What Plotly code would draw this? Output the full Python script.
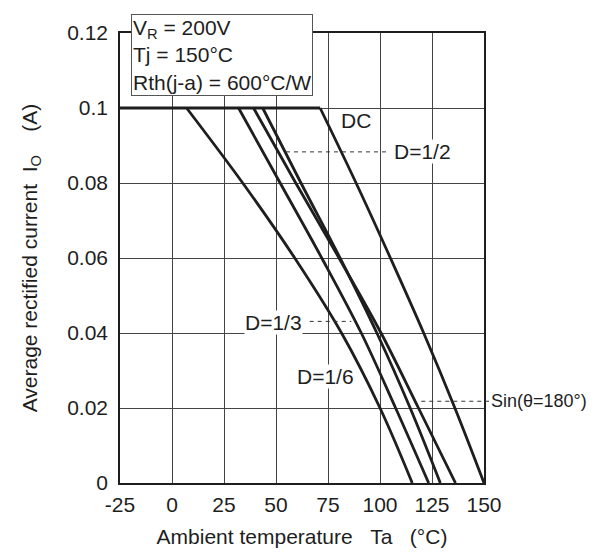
import plotly.graph_objects as go

# ---- data ----
current_levels = [0.1, 0.08, 0.06, 0.04, 0.02, 0.0]

ta_d16 = [7.0, 34.0, 59.0, 81.5, 100.0, 115.5]      # D=1/6
ta_d13 = [32.0, 52.0, 72.0, 91.0, 107.5, 123.4]     # D=1/3
ta_d12 = [43.6, 62.0, 80.8, 98.5, 114.5, 129.0]     # D=1/2
ta_sin = [39.2, 59.5, 80.3, 100.5, 118.5, 136.3]    # Sin(θ=180°)
ta_dc = [71.2, 88.5, 105.0, 121.0, 136.0, 150.0]    # DC

flat_x = [-25, 71.2]
flat_y = [0.1, 0.1]

x_ticks = [-25, 0, 25, 50, 75, 100, 125, 150]
x_tick_text = ["-25", "0", "25", "50", "75", "100", "125", "150"]
y_ticks = [0, 0.02, 0.04, 0.06, 0.08, 0.1, 0.12]
y_tick_text = ["0", "0.02", "0.04", "0.06", "0.08", "0.1", "0.12"]

FONT = "Liberation Sans, Arial, Helvetica, sans-serif"
INK = "#1e1e1e"
FS = 21
NB = "\u00a0"

fig = go.Figure()

fig.add_trace(go.Scatter(x=flat_x, y=flat_y, mode="lines",
                         line=dict(color=INK, width=2.8),
                         showlegend=False, hoverinfo="skip"))
for name, xs in [("D=1/6", ta_d16), ("D=1/3", ta_d13), ("D=1/2", ta_d12),
                 ("Sin", ta_sin), ("DC", ta_dc)]:
    fig.add_trace(go.Scatter(x=xs, y=current_levels, mode="lines", name=name,
                             line=dict(color=INK, width=2.8, shape="spline", smoothing=1.0),
                             showlegend=False))

txt = dict(family=FONT, size=FS, color=INK)

annotations = [
    dict(x=(123 - 112) / 364, y=1 + 19 / 450, xref="paper", yref="paper",
         xanchor="left", yanchor="top", align="left", showarrow=False,
         text="V<sub>R</sub> = 200V<br>Tj = 150°C<br>Rth(j-a) = 600°C/W",
         font=txt, bgcolor="white", bordercolor="#555", borderwidth=1, borderpad=1),
    dict(x=88.5, y=0.0968, xref="x", yref="y", text="DC", showarrow=False, font=txt),
    dict(x=106.3, y=0.0883, xref="x", yref="y", xanchor="left", text="D=1/2",
         showarrow=False, font=txt, bgcolor="white", borderpad=0),
    dict(x=63.0, y=0.0429, xref="x", yref="y", xanchor="right", text="D=1/3",
         showarrow=False, font=txt, bgcolor="white", borderpad=0),
    dict(x=73.8, y=0.0285, xref="x", yref="y", text="D=1/6",
         showarrow=False, font=txt, bgcolor="white", borderpad=0),
    dict(x=(481 - 112) / 364, y=0.0218, xref="paper", yref="y", xanchor="left",
         text="Sin(θ=180°)", showarrow=False, font=dict(family=FONT, size=18, color=INK)),
]

dash = dict(color="#333", width=1, dash="4px,4px")
shapes = [
    dict(type="line", xref="x", yref="y", x0=54.8, x1=102.9, y0=0.0883, y1=0.0883, line=dash),
    dict(type="line", xref="x", yref="y", x0=66.2, x1=86.2, y0=0.0431, y1=0.0431, line=dash),
    dict(type="line", xref="paper", yref="paper", x0=(413.3 - 112) / 364, x1=(481 - 112) / 364,
         y0=0.0218 / 0.12, y1=0.0218 / 0.12, line=dash),
]

fig.update_layout(
    width=597, height=555,
    margin=dict(l=112, r=121, t=25, b=80, autoexpand=False),
    paper_bgcolor="white", plot_bgcolor="white",
    font=txt,
    annotations=annotations,
    shapes=shapes,
    xaxis=dict(range=[-25, 150], tickvals=x_ticks, ticktext=x_tick_text,
               ticks="outside", ticklen=2, tickcolor="rgba(0,0,0,0)",
               showgrid=True, gridcolor="#444", gridwidth=1, zeroline=False,
               showline=True, linecolor=INK, linewidth=1.5, mirror=True,
               tickfont=txt, automargin=False,
               title=dict(text=f"Ambient temperature{NB*3}Ta{NB*3}(°C)",
                          font=txt, standoff=14)),
    yaxis=dict(range=[0, 0.12], tickvals=y_ticks, ticktext=y_tick_text,
               ticks="outside", ticklen=6, tickcolor="rgba(0,0,0,0)",
               showgrid=True, gridcolor="#444", gridwidth=1, zeroline=False,
               showline=True, linecolor=INK, linewidth=1.5, mirror=True,
               tickfont=txt, automargin=False,
               title=dict(text=f"{NB*3}Average rectified current{NB*2}I<sub>O</sub>{NB*4}(A)",
                          font=txt, standoff=24)),
)

fig.write_html("out.html")
